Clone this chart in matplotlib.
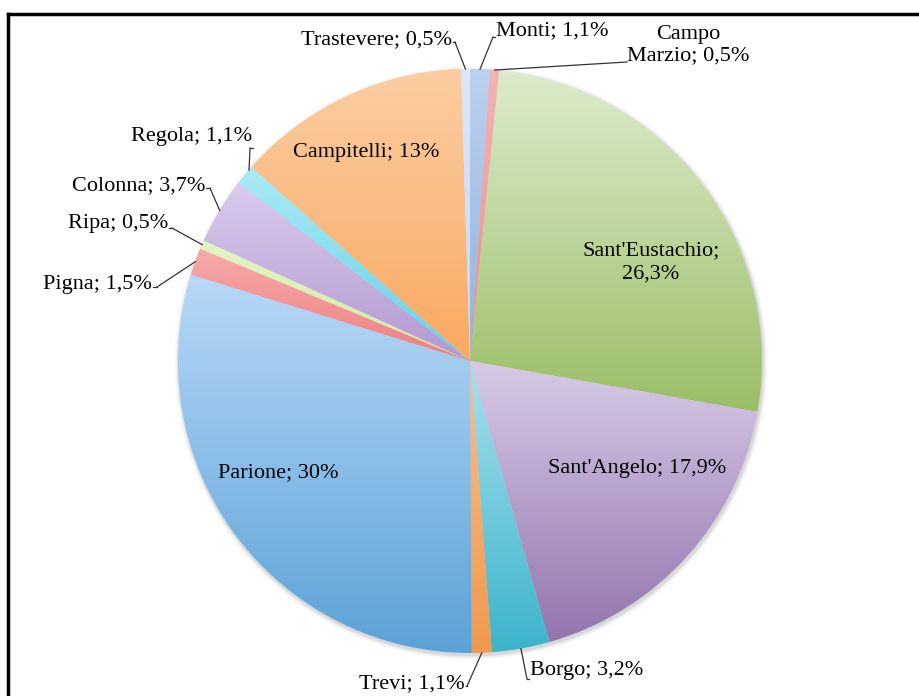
import numpy as np
import matplotlib
matplotlib.use("Agg")
import matplotlib.pyplot as plt
from matplotlib.colors import to_rgb
from matplotlib.lines import Line2D

# ---- data ----
names = ["Monti", "Campo\nMarzio", "Sant'Eustachio", "Sant'Angelo", "Borgo", "Trevi",
         "Parione", "Pigna", "Ripa", "Colonna", "Regola", "Campitelli", "Trastevere"]
values = [1.1, 0.5, 26.3, 17.9, 3.2, 1.1, 30.0, 1.5, 0.5, 3.7, 1.1, 13.0, 0.5]
pct_labels = ["1,1%", "0,5%", "26,3%", "17,9%", "3,2%", "1,1%", "30%", "1,5%", "0,5%",
              "3,7%", "1,1%", "13%", "0,5%"]
colors_top = ["#BAD1EF", "#F3B4B4", "#DCEBCB", "#D8CAE6", "#A8E0EC", "#F7BE90",
              "#B8D8F7", "#F7AAAA", "#E2F4C4", "#DACBEE", "#ABEAF6", "#FCCDA2", "#DAE7F8"]
colors_bot = ["#90B3DE", "#E68F8F", "#9BBE67", "#9375AE", "#3CB4CA", "#EE9A4D",
              "#5CA2D7", "#EE8080", "#CFEAA8", "#B298D0", "#62D2E8", "#F9A961", "#C6D9F2"]

# ---- layout (pixel space) ----
W, H = 920, 696
cx, cy, R = 470, 696 - 361, 292
inside = {2: (651, 696 - 262), 3: (637, 696 - 469), 6: (278, 696 - 473), 11: (366, 696 - 153)}
# outside labels: text anchor (x, y), ha, and elbow point
outside = {
    0: ((496, 696 - 31), "left", (493, 696 - 37)),
    1: ((688, 696 - 45), "center", (627, 696 - 62)),
    4: ((530, 696 - 671), "left", (527, 696 - 679)),
    5: ((465, 696 - 684), "right", (467, 696 - 686)),
    7: ((152, 696 - 285), "right", (157, 696 - 287)),
    8: ((168, 696 - 224), "right", (172, 696 - 228)),
    9: ((205, 696 - 186), "right", (210, 696 - 188)),
    10: ((252, 696 - 137), "right", (250, 696 - 148)),
    12: ((452, 696 - 40), "right", (455, 696 - 42)),
}
# angular nudge (degrees) of where leader meets the pie
leader_nudge = {10: -1.2}

fig = plt.figure(figsize=(W / 100, H / 100), dpi=100)
ax = fig.add_axes([0, 0, 1, 1])
ax.set_axis_off()

# soft shadow
for k, a in enumerate(np.linspace(0.05, 0.01, 5)):
    ax.add_patch(plt.Circle((cx + 1, cy - 2), R + 1 + k, color="black", alpha=a, lw=0, zorder=0))

wedges, _ = ax.pie(values, startangle=90, counterclock=False, center=(cx, cy), radius=R,
                   colors=colors_top, wedgeprops=dict(linewidth=0))

for i, w in enumerate(wedges):
    v = w.get_path().vertices
    x0, x1 = v[:, 0].min(), v[:, 0].max()
    y0, y1 = v[:, 1].min(), v[:, 1].max()
    ct, cb = np.array(to_rgb(colors_top[i])), np.array(to_rgb(colors_bot[i]))
    t = np.linspace(0, 1, 64)[:, None]
    grad = (cb * (1 - t) + ct * t)[:, None, :]
    im = ax.imshow(grad, extent=(x0, x1, y0, y1), origin="lower", aspect="auto",
                   interpolation="bilinear", zorder=2)
    im.set_clip_path(w)

font = dict(family="Liberation Serif", fontsize=16, color="black")
total = sum(values)
cum = np.cumsum([0] + values)
for i in range(len(values)):
    label = f"{names[i]}; {pct_labels[i]}"
    if i in inside:
        if i == 2:
            label = f"{names[i]};\n{pct_labels[i]}"
        x, y = inside[i]
        ax.text(x, y, label, ha="center", va="center", linespacing=1.3, zorder=5, **font)
    else:
        (tx, ty), ha, (ex, ey) = outside[i]
        ax.text(tx, ty, label, ha=ha, va="center", linespacing=1.15, zorder=5, **font)
        mid = 90 - (cum[i] + values[i] / 2) / total * 360 + leader_nudge.get(i, 0)
        px = cx + R * np.cos(np.radians(mid))
        py = cy + R * np.sin(np.radians(mid))
        ax.plot([ex, px], [ey, py], color="#333333", lw=0.9, zorder=4)
        if ha == "right":
            ax.plot([tx + 1, ex], [ey, ey], color="#333333", lw=0.9, zorder=4)
        elif ha == "left":
            ax.plot([ex, tx - 1], [ey, ey], color="#333333", lw=0.9, zorder=4)

ax.set_xlim(0, W)
ax.set_ylim(0, H)
ax.set_aspect("equal")

# frame lines (left and top)
fig.add_artist(Line2D([8 / W, 8 / W], [0, 1 - 14 / H], color="black", lw=2.5))
fig.add_artist(Line2D([8 / W, 1], [1 - 14 / H, 1 - 14 / H], color="black", lw=2.5))

fig.savefig("out.png", dpi=100)
